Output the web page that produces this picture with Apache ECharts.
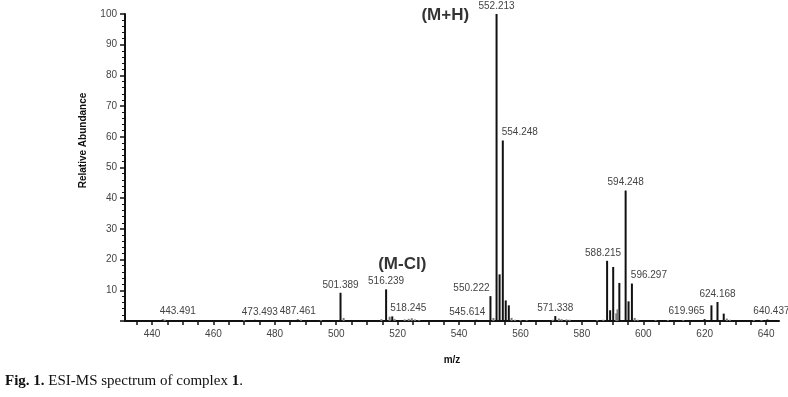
<!DOCTYPE html>
<html>
<head>
<meta charset="utf-8">
<script src="https://cdn.jsdelivr.net/npm/echarts@6/dist/echarts.min.js"></script>
<style>
  html, body { margin: 0; padding: 0; background: #fff; }
  #main { width: 788px; height: 397px; }
</style>
</head>
<body>
<div id="main"></div>
<script>
// labelled peaks (m/z, relative abundance)
const peakMz = [443.491, 473.493, 487.461, 501.389, 516.239, 518.245, 545.614, 550.222,
  552.213, 553.2, 554.248, 555.2, 556.2, 571.338, 588.215, 589.2, 590.2, 592.2,
  594.248, 595.2, 596.297, 619.965, 622.2, 624.168, 626.2, 640.437]
const peakAbundance = [0.5, 0.4, 0.5, 9.2, 10.3, 1.5, 0.4, 8.1,
  100, 15.2, 58.8, 6.7, 5.1, 1.6, 19.6, 3.5, 17.6, 12.4,
  42.5, 6.4, 12.2, 0.6, 5.1, 6.2, 2.4, 0.5]

// small noise peaks
const minorMz = [444.1, 470.0, 488.5, 495.0, 502.4, 514.7, 517.4, 519.0, 522.3, 523.6, 524.6, 525.6,
  527.0, 551.2, 557.1, 558.2, 560.0, 562.0, 570.5, 572.5, 573.4, 575.0, 576.0, 585.0, 587.0,
  591.2, 591.6, 597.2, 598.2, 604.0, 608.0, 613.0, 627.2, 628.2, 636.0, 638.5]
const minorAbundance = [0.4, 0.3, 0.4, 0.3, 1.0, 0.6, 1.4, 0.6, 0.5, 0.7, 0.9, 0.5,
  0.3, 1.0, 1.0, 0.4, 0.3, 0.3, 0.4, 0.8, 0.6, 0.5, 0.4, 0.3, 0.4,
  2.5, 3.8, 1.0, 0.4, 0.3, 0.3, 0.3, 0.8, 0.4, 0.3, 0.3]

const labelledMz = [443.491, 473.493, 487.461, 501.389, 516.239, 518.245, 545.614, 550.222,
  552.213, 554.248, 571.338, 588.215, 594.248, 596.297, 619.965, 624.168, 640.437]

const xTickValues = [435, 440, 445, 450, 455, 460, 465, 470, 475, 480, 485, 490, 495, 500,
  505, 510, 515, 520, 525, 530, 535, 540, 545, 550, 555, 560, 565, 570, 575, 580, 585, 590,
  595, 600, 605, 610, 615, 620, 625, 630, 635, 640]
const xLabelValues = [440, 460, 480, 500, 520, 540, 560, 580, 600, 620, 640]

const annotations = [
  { name: '(M+H)', mz: 535.5, abundance: 99.5 },
  { name: '(M-Cl)', mz: 521.5, abundance: 18.5 }
]

// horizontal shift (px) of each peak label
const labelShift = {
  '443.491': 15, '473.493': 5, '518.245': 16, '545.614': -9, '550.222': -19,
  '554.248': 17, '588.215': -4, '596.297': 17, '619.965': -18, '640.437': 4
}

const myChart = echarts.init(document.getElementById('main'))

const peakData = peakMz.map((mz, i) => {
  const item = { value: [mz, peakAbundance[i]] }
  if (labelledMz.includes(mz)) {
    item.label = {
      show: true,
      formatter: mz.toFixed(3),
      offset: [labelShift[mz.toFixed(3)] || 0, 0]
    }
  }
  return item
})
const minorData = minorMz.map((mz, i) => ({
  value: [mz, minorAbundance[i]],
  itemStyle: { color: '#7a7a7a' }
}))

myChart.setOption({
  animation: false,
  title: {
    text: '{b|Fig. 1.} ESI-MS spectrum of complex {b|1}.',
    left: 0,
    top: 369,
    textStyle: {
      fontFamily: 'Liberation Serif',
      fontSize: 15,
      fontWeight: 'normal',
      color: '#111',
      rich: {
        b: { fontFamily: 'Liberation Serif', fontSize: 15, fontWeight: 'bold', color: '#111' }
      }
    }
  },
  grid: { left: 125, right: 9, top: 14, bottom: 76 },
  xAxis: {
    type: 'value',
    min: 431.2,
    max: 644.2,
    name: 'm/z',
    nameLocation: 'middle',
    nameGap: 34,
    nameTextStyle: { fontFamily: 'Liberation Sans', fontSize: 10, fontWeight: 'bold', color: '#111' },
    axisLine: { lineStyle: { color: '#111', width: 2 } },
    axisTick: { customValues: xTickValues, length: 4, lineStyle: { color: '#111', width: 1.5 } },
    axisLabel: {
      customValues: xLabelValues,
      margin: 8,
      fontFamily: 'Liberation Sans', fontSize: 10, color: '#444'
    },
    splitLine: { show: false }
  },
  yAxis: {
    type: 'value',
    min: 0,
    max: 100,
    interval: 10,
    name: 'Relative Abundance',
    nameLocation: 'middle',
    nameGap: 37,
    nameTextStyle: {
      fontFamily: 'Liberation Sans', fontSize: 10, fontWeight: 'bold', color: '#111',
      padding: [0, 0, 0, 54]
    },
    axisLine: { show: true, lineStyle: { color: '#111', width: 2 } },
    axisTick: { show: true, length: 5, lineStyle: { color: '#111', width: 1.5 } },
    minorTick: { show: true, splitNumber: 5, length: 3, lineStyle: { color: '#111', width: 1 } },
    axisLabel: {
      margin: 8,
      fontFamily: 'Liberation Sans', fontSize: 10, color: '#444',
      formatter: v => (v === 0 ? '' : v)
    },
    splitLine: { show: false }
  },
  series: [
    {
      type: 'bar',
      barWidth: 2,
      itemStyle: { color: '#111' },
      label: {
        position: 'top',
        distance: 3,
        fontFamily: 'Liberation Sans',
        fontSize: 10,
        color: '#444'
      },
      data: peakData.concat(minorData)
    },
    {
      type: 'scatter',
      symbolSize: 1,
      silent: true,
      itemStyle: { color: 'rgba(0,0,0,0)' },
      label: {
        show: true,
        position: 'inside',
        formatter: p => p.name,
        fontFamily: 'Liberation Sans',
        fontSize: 17,
        fontWeight: 'bold',
        color: '#000',
        textBorderWidth: 0
      },
      data: annotations.map(a => ({ name: a.name, value: [a.mz, a.abundance] }))
    }
  ]
})
</script>
</body>
</html>
